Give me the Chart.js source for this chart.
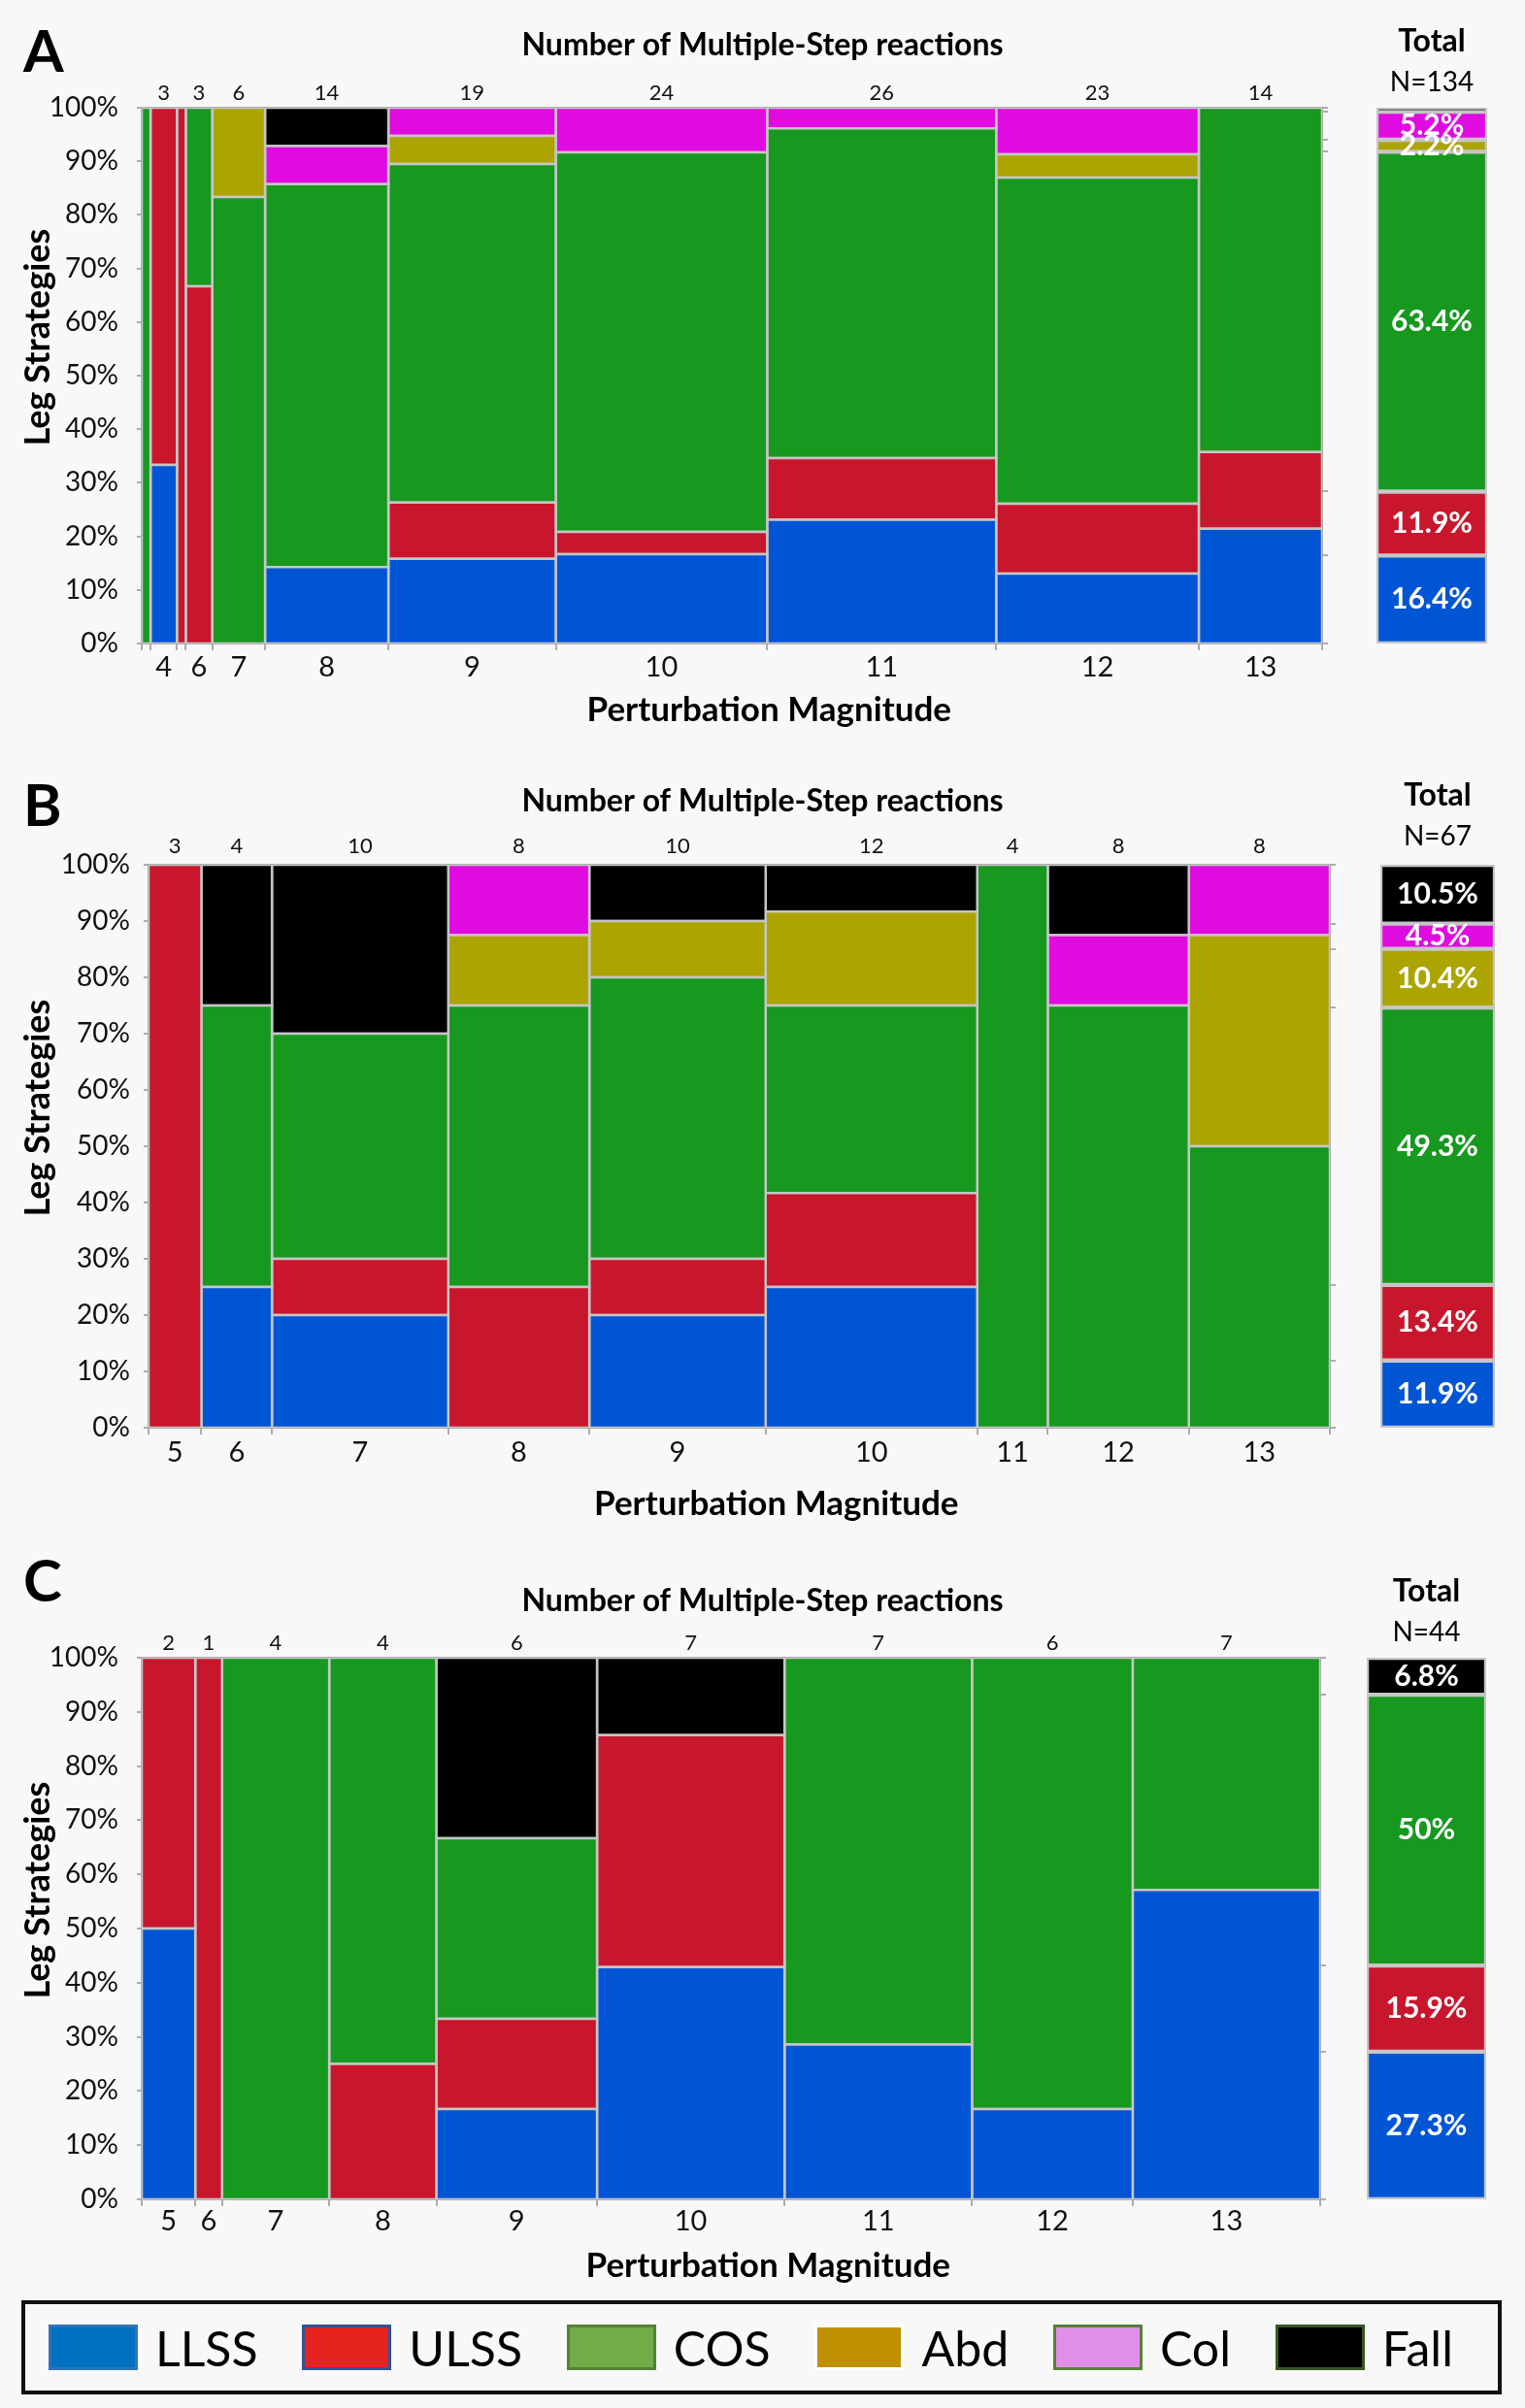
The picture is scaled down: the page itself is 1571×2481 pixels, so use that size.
<!DOCTYPE html>
<html>
<head>
<meta charset="utf-8">
<script src="https://cdn.jsdelivr.net/npm/chart.js@4.4.1/dist/chart.umd.min.js"></script>
<style>
  body { margin: 0; background: #f8f8f8; width: 1571px; height: 2481px; position: relative; overflow: hidden; font-family: Lato, sans-serif; }
  canvas { position: absolute; }
  .letter { position: absolute; left: 24px; font: bold 60px Lato, sans-serif; line-height: 60px; color: #000; }
  #legend { position: absolute; left: 22px; top: 2370px; width: 1525px; height: 97px; box-sizing: border-box;
            border: 4px solid #111; display: flex; align-items: center; justify-content: space-between;
            padding: 0 46px 0 24px; }
  .item { display: flex; align-items: center; }
  .sw { width: 92px; height: 47px; box-sizing: border-box; border: 3px solid; margin-right: 18px; }
  .item span.txt { font: 50px Lato, sans-serif; color: #000; }
</style>
</head>
<body>
<div class="letter" style="top:21px">A</div>
<div class="letter" style="top:798px">B</div>
<div class="letter" style="top:1597px">C</div>
<canvas id="mainA" width="1571" height="760" style="left:0;top:0"></canvas>
<canvas id="totA" width="150" height="760" style="left:1400px;top:0"></canvas>
<canvas id="mainB" width="1571" height="800" style="left:0;top:780px"></canvas>
<canvas id="totB" width="154" height="800" style="left:1404px;top:780px"></canvas>
<canvas id="mainC" width="1571" height="760" style="left:0;top:1600px"></canvas>
<canvas id="totC" width="159" height="760" style="left:1390px;top:1600px"></canvas>
<div id="legend"></div>

<script>
// Leg strategies, stacked bottom to top in every column
const strategies = ['LLSS', 'ULSS', 'COS', 'Abd', 'Col', 'Fall'];
const fillColors = ['#0055d4', '#c8162d', '#17981f', '#aca400', '#e00be0', '#000000'];
const legendFills = ['#0070c0', '#e6231e', '#70ad47', '#bf9000', '#e08ee8', '#000000'];
const legendEdges = ['#2e75b6', '#2f5597', '#548235', '#ffffff', '#548235', '#385723'];

// Panel A: number of reactions per strategy, one entry per perturbation magnitude
const magnitudesA = [3, 4, 5, 6, 7, 8, 9, 10, 11, 12, 13];
const tickLabelsA = ['', '4', '', '6', '7', '8', '9', '10', '11', '12', '13'];
const llssA = [0, 1, 0, 0, 0, 2, 3, 4, 6, 3, 3];
const ulssA = [0, 2, 1, 2, 0, 0, 2, 1, 3, 3, 2];
const cosA  = [1, 0, 0, 1, 5, 10, 12, 17, 16, 14, 9];
const abdA  = [0, 0, 0, 0, 1, 0, 1, 0, 0, 1, 0];
const colA  = [0, 0, 0, 0, 0, 1, 1, 2, 1, 2, 0];
const fallA = [0, 0, 0, 0, 0, 1, 0, 0, 0, 0, 0];
const totalLabelsA = ['16.4%', '11.9%', '63.4%', '2.2%', '5.2%', ''];

// Panel B
const magnitudesB = [5, 6, 7, 8, 9, 10, 11, 12, 13];
const tickLabelsB = ['5', '6', '7', '8', '9', '10', '11', '12', '13'];
const llssB = [0, 1, 2, 0, 2, 3, 0, 0, 0];
const ulssB = [3, 0, 1, 2, 1, 2, 0, 0, 0];
const cosB  = [0, 2, 4, 4, 5, 4, 4, 6, 4];
const abdB  = [0, 0, 0, 1, 1, 2, 0, 0, 3];
const colB  = [0, 0, 0, 1, 0, 0, 0, 1, 1];
const fallB = [0, 1, 3, 0, 1, 1, 0, 1, 0];
const totalLabelsB = ['11.9%', '13.4%', '49.3%', '10.4%', '4.5%', '10.5%'];

// Panel C
const magnitudesC = [5, 6, 7, 8, 9, 10, 11, 12, 13];
const tickLabelsC = ['5', '6', '7', '8', '9', '10', '11', '12', '13'];
const llssC = [1, 0, 0, 0, 1, 3, 2, 1, 4];
const ulssC = [1, 1, 0, 1, 1, 3, 0, 0, 0];
const cosC  = [0, 0, 4, 3, 2, 0, 5, 5, 3];
const abdC  = [0, 0, 0, 0, 0, 0, 0, 0, 0];
const colC  = [0, 0, 0, 0, 0, 0, 0, 0, 0];
const fallC = [0, 0, 0, 0, 2, 1, 0, 0, 0];
const totalLabelsC = ['27.3%', '15.9%', '50%', '', '', '6.8%'];

const edgeColor = '#c6c6c6';
const axisColor = '#adadad';
// leading spaces nudge the axis titles off the plot's middle, as in the original
const yTitle = '\u00a0'.repeat(9) + 'Leg Strategies';
const xTitle = '\u00a0'.repeat(9) + 'Perturbation Magnitude';

Chart.defaults.font.family = 'Lato, sans-serif';
Chart.defaults.color = '#111';

function columnTotals(series) {
  return series[0].map((_, i) => series.reduce((s, arr) => s + arr[i], 0));
}

// ticks at column centres (labels) and, optionally, at column edges (tick marks only)
function xTickList(counts, texts, withEdges) {
  const list = [];
  let x = 0;
  counts.forEach((c, i) => {
    if (withEdges) list.push({ value: x, txt: '', edge: true });
    list.push({ value: x + c / 2, txt: texts[i], edge: false });
    x += c;
  });
  if (withEdges) list.push({ value: x, txt: '', edge: true });
  return list;
}

// one filled rectangle per (column, strategy), in data units: x = cumulative count, y = percent
function mosaicDatasets(series) {
  const counts = columnTotals(series);
  const sets = [];
  let x0 = 0;
  counts.forEach((tot, i) => {
    const x1 = x0 + tot;
    let y0 = 0;
    series.forEach((arr, k) => {
      if (!arr[i]) return;
      const y1 = y0 + arr[i] / tot * 100;
      sets.push({
        data: [{ x: x0, y: y0 }, { x: x1, y: y0 }, { x: x1, y: y1 }, { x: x0, y: y1 }, { x: x0, y: y0 }],
        xAxisID: 'x', yAxisID: 'y',
        backgroundColor: fillColors[k],
        borderColor: edgeColor,
        borderWidth: 2.5,
        borderCapStyle: 'square',
        fill: 'shape',
        pointRadius: 0,
        tension: 0
      });
      y0 = y1;
    });
    x0 = x1;
  });
  return sets;
}

function makeLabelPlugin(texts) {
  return {
    id: 'segmentLabels',
    afterDatasetsDraw(chart) {
      const ctx = chart.ctx;
      ctx.save();
      ctx.font = 'bold 30px Lato, sans-serif';
      ctx.fillStyle = '#ffffff';
      ctx.textAlign = 'center';
      ctx.textBaseline = 'middle';
      texts.forEach((t, k) => {
        const el = chart.getDatasetMeta(k).data[0];
        if (!t || !el) return;
        ctx.fillText(t, el.x, (el.y + el.base) / 2);
      });
      ctx.restore();
    }
  };
}

function drawPanel(p) {
  const L = p.layout;
  const counts = columnTotals(p.series);
  const N = counts.reduce((a, b) => a + b, 0);
  const countTexts = counts.map((c, i) => (p.tickLabels[i] ? String(c) : ''));
  const totals = p.series.map(arr => arr.reduce((a, b) => a + b, 0));
  const pct = totals.map(t => t / N * 100);
  const cumulative = [0];
  pct.forEach(v => cumulative.push(cumulative[cumulative.length - 1] + v));

  new Chart(document.getElementById(p.mainId), {
    type: 'line',
    data: { datasets: mosaicDatasets(p.series) },
    options: {
      responsive: false,
      animation: false,
      devicePixelRatio: 1,
      events: [],
      layout: { padding: { left: 0, right: 0, top: 0, bottom: L.padBottom } },
      plugins: {
        legend: { display: false },
        tooltip: { enabled: false },
        title: {
          display: true,
          text: 'Number of Multiple-Step reactions',
          color: '#000',
          font: { size: 32, weight: 'bold' },
          padding: { top: L.titleTop, bottom: 0 }
        }
      },
      scales: {
        x: {
          type: 'linear', position: 'bottom', min: 0, max: N,
          afterBuildTicks: s => { s.ticks = xTickList(counts, p.tickLabels, true); },
          afterFit: s => { s.height = L.bottomH; },
          ticks: {
            autoSkip: false, maxRotation: 0, padding: L.xPad,
            font: { size: 29 }, color: '#111',
            callback: (v, i, t) => t[i].txt
          },
          grid: {
            drawOnChartArea: false, drawTicks: true, tickLength: 7, lineWidth: 2,
            color: c => (c.tick && c.tick.edge ? axisColor : 'rgba(0,0,0,0)')
          },
          border: { color: axisColor, width: 2 },
          title: {
            display: true, text: xTitle, color: '#000',
            font: { size: 35, weight: 'bold' }, padding: { top: 0, bottom: 4 }
          }
        },
        xt: {
          type: 'linear', position: 'top', min: 0, max: N,
          afterBuildTicks: s => { s.ticks = xTickList(counts, countTexts, false); },
          afterFit: s => { s.height = L.topH; },
          ticks: {
            autoSkip: false, maxRotation: 0, padding: L.countPad,
            font: { size: 22 }, color: '#111',
            callback: (v, i, t) => t[i].txt
          },
          grid: { display: false, drawTicks: false },
          border: { color: axisColor, width: 2 }
        },
        y: {
          type: 'linear', position: 'left', min: 0, max: 100,
          afterFit: s => { s.width = L.left; },
          ticks: {
            stepSize: 10, padding: L.yPad, font: { size: 28 }, color: '#111',
            callback: v => v + '%'
          },
          grid: { drawOnChartArea: false, tickLength: 5, color: axisColor, lineWidth: 2 },
          border: { color: axisColor, width: 2 },
          title: {
            display: true, text: yTitle, color: '#000',
            font: { size: 36, weight: 'bold' }, padding: { top: 18 }
          }
        },
        y2: {
          type: 'linear', position: 'right', min: 0, max: 100,
          afterBuildTicks: s => { s.ticks = cumulative.map(v => ({ value: v })); },
          afterFit: s => { s.width = L.rightW; },
          ticks: { autoSkip: false, callback: () => '' },
          grid: { drawOnChartArea: false, tickLength: 6, color: axisColor, lineWidth: 2 },
          border: { color: axisColor, width: 2 }
        }
      }
    }
  });

  new Chart(document.getElementById(p.totalId), {
    type: 'bar',
    data: {
      labels: ['Total'],
      datasets: strategies.map((s, k) => ({
        label: s,
        data: [totals[k] ? pct[k] : null],
        backgroundColor: fillColors[k],
        borderColor: edgeColor,
        borderWidth: 2.5,
        borderSkipped: false,
        barPercentage: 1,
        categoryPercentage: 1
      }))
    },
    options: {
      responsive: false,
      animation: false,
      devicePixelRatio: 1,
      events: [],
      layout: { padding: { left: 18, right: 18, top: 0, bottom: L.totPadBottom } },
      plugins: {
        legend: { display: false },
        tooltip: { enabled: false },
        title: {
          display: true, text: 'Total', color: '#000',
          font: { size: 32, weight: 'bold' },
          padding: { top: L.totTitleTop, bottom: 0 }
        },
        subtitle: {
          display: true, text: 'N=' + N, color: '#000',
          font: { size: 28 },
          padding: { top: 6, bottom: L.totSubBottom }
        }
      },
      scales: {
        x: { stacked: true, display: false },
        y: { stacked: true, display: false, min: 0, max: 100 }
      }
    },
    plugins: [makeLabelPlugin(p.totalLabels)]
  });
}

drawPanel({
  mainId: 'mainA', totalId: 'totA',
  series: [llssA, ulssA, cosA, abdA, colA, fallA],
  tickLabels: tickLabelsA, totalLabels: totalLabelsA,
  layout: { titleTop: 27.8, topH: 44.8, countPad: 1.8, bottomH: 94, xPad: 0, padBottom: 3,
            left: 146, rightW: 209, yPad: 19, totTitleTop: 23.8, totSubBottom: 9.2, totPadBottom: 97 }
});

drawPanel({
  mainId: 'mainB', totalId: 'totB',
  series: [llssB, ulssB, cosB, abdB, colB, fallB],
  tickLabels: tickLabelsB, totalLabels: totalLabelsB,
  layout: { titleTop: 26.8, topH: 45.8, countPad: 5.8, bottomH: 104, xPad: 1.6, padBottom: 5,
            left: 153, rightW: 201, yPad: 14, totTitleTop: 20.8, totSubBottom: 12.2, totPadBottom: 109 }
});

drawPanel({
  mainId: 'mainC', totalId: 'totC',
  series: [llssC, ulssC, cosC, abdC, colC, fallC],
  tickLabels: tickLabelsC, totalLabels: totalLabelsC,
  layout: { titleTop: 30.8, topH: 38.8, countPad: 1.8, bottomH: 94, xPad: -2, padBottom: 0,
            left: 146, rightW: 211, yPad: 19, totTitleTop: 20.8, totSubBottom: 9.2, totPadBottom: 94 }
});

// legend box under the three panels
const legend = document.getElementById('legend');
strategies.forEach((s, k) => {
  const item = document.createElement('div');
  item.className = 'item';
  const sw = document.createElement('span');
  sw.className = 'sw';
  sw.style.background = legendFills[k];
  sw.style.borderColor = legendEdges[k];
  const txt = document.createElement('span');
  txt.className = 'txt';
  txt.textContent = s;
  item.appendChild(sw);
  item.appendChild(txt);
  legend.appendChild(item);
});
</script>
</body>
</html>
